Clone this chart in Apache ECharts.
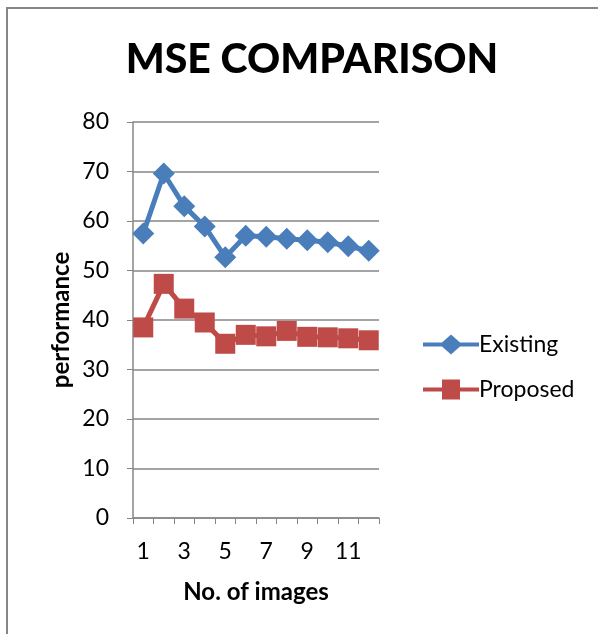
<!DOCTYPE html>
<html>
<head>
<meta charset="utf-8">
<script src="https://cdn.jsdelivr.net/npm/echarts@6/dist/echarts.min.js"></script>
<style>html,body{margin:0;padding:0;background:#fff;}#c{width:598px;height:634px;}</style>
</head>
<body>
<div id="c"></div>
<script>
const categories = ['1','2','3','4','5','6','7','8','9','10','11','12'];
const existing = [57.5, 69.6, 63.0, 58.9, 52.7, 57.0, 56.8, 56.4, 56.1, 55.7, 54.9, 54.0];
const proposed = [38.5, 47.3, 42.3, 39.5, 35.2, 37.0, 36.7, 37.8, 36.6, 36.5, 36.3, 35.9];
const yTicks = { min: 0, max: 80, interval: 10 };
const FONT = 'Lato';

const chart = echarts.init(document.getElementById('c'));
chart.setOption({
  backgroundColor: '#fff',
  animation: false,
  title: {
    text: 'MSE COMPARISON',
    left: 307, textAlign: 'center', top: 34,
    textStyle: { fontFamily: FONT, fontWeight: 900, fontSize: 41, color: '#000' }
  },
  graphic: [{
    type: 'rect', shape: { x: 7, y: 8, width: 800, height: 800 },
    style: { fill: 'none', stroke: '#868686', lineWidth: 2 }, silent: true
  }],
  legend: {
    orient: 'vertical', left: 418, top: 328, itemGap: 22,
    itemWidth: 56, itemHeight: 20,
    textStyle: { fontFamily: FONT, fontSize: 23, color: '#000', padding: [0,0,0,-5] },
    data: [
      { name: 'Existing', icon: 'path://M0,8 L19,8 L28,0 L37,8 L56,8 L56,12 L37,12 L28,20 L19,12 L0,12 Z' },
      { name: 'Proposed', icon: 'path://M0,8 L19,8 L19,0 L37,0 L37,8 L56,8 L56,12 L37,12 L37,20 L19,20 L19,12 L0,12 Z' }
    ]
  },
  grid: { left: 133, right: 219, top: 122, bottom: 116 },
  xAxis: {
    type: 'category', data: categories, boundaryGap: true,
    name: 'No. of images', nameLocation: 'middle', nameGap: 62,
    nameTextStyle: { fontFamily: FONT, fontWeight: 'bold', fontSize: 24, color: '#000' },
    axisLine: { lineStyle: { color: '#868686', width: 1.5 } },
    axisTick: { show: true, length: 6, interval: 0, alignWithLabel: false, lineStyle: { color: '#868686' } },
    axisLabel: { interval: 1, margin: 22, fontFamily: FONT, fontSize: 23, color: '#000' },
    splitLine: { show: false }
  },
  yAxis: {
    type: 'value', min: yTicks.min, max: yTicks.max, interval: yTicks.interval,
    name: 'performance', nameLocation: 'middle', nameGap: 60, nameRotate: 90,
    nameTextStyle: { fontFamily: FONT, fontWeight: 'bold', fontSize: 24, color: '#000' },
    axisLine: { show: true, lineStyle: { color: '#868686', width: 1.5 } },
    axisTick: { show: true, length: 6, lineStyle: { color: '#868686' } },
    axisLabel: { margin: 24, fontFamily: FONT, fontSize: 23, color: '#000' },
    splitLine: { lineStyle: { color: '#868686', width: 1.5 } }
  },
  series: [
    {
      name: 'Existing', type: 'line', data: existing,
      symbol: 'diamond', symbolSize: 22, showSymbol: true, showAllSymbol: true,
      lineStyle: { color: '#4a7ebb', width: 5 },
      itemStyle: { color: '#4a7ebb' }
    },
    {
      name: 'Proposed', type: 'line', data: proposed,
      symbol: 'rect', symbolSize: 20, showSymbol: true, showAllSymbol: true,
      lineStyle: { color: '#be4b48', width: 5 },
      itemStyle: { color: '#be4b48' }
    }
  ]
});
</script>
</body>
</html>
